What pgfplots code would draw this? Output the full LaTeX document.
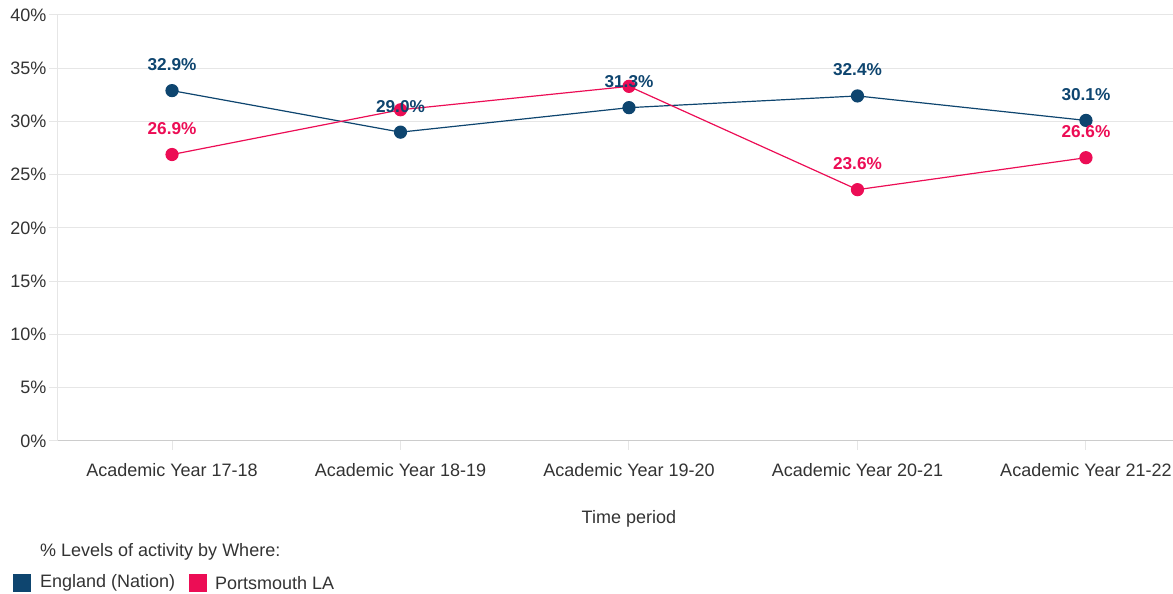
\documentclass[border=0pt]{standalone}
\usepackage{fontspec}
\setmainfont{Liberation Sans}
\usepackage{pgfplots}
\pgfplotsset{compat=1.18}
\definecolor{eng}{HTML}{0E456F}
\definecolor{pts}{HTML}{EC0D55}
\definecolor{gridc}{HTML}{E6E6E6}
\definecolor{axc}{HTML}{CCCCCC}
\definecolor{txt}{HTML}{333333}
\begin{document}
\begin{tikzpicture}[x=1pt,y=1pt]
\path[use as bounding box] (0,0) rectangle (1173,594);
\begin{axis}[
  at={(58pt,153pt)}, anchor=south west,
  scale only axis, width=1115pt, height=426pt,
  xmin=-0.499, xmax=4.381, ymin=0, ymax=40,
  xtick={0,1,2,3,4},
  xticklabels={Academic Year 17-18,Academic Year 18-19,Academic Year 19-20,Academic Year 20-21,Academic Year 21-22},
  ytick={0,5,...,40},
  yticklabel={\pgfmathprintnumber{\tick}\%},
  /pgf/number format/assume math mode=true,
  axis lines*=left,
  axis line style={-},
  x axis line style={draw=axc, line width=1pt},
  y axis line style={draw=gridc, line width=1pt},
  tick align=outside,
  major tick length=9pt,
  tick style={draw=gridc, line width=1pt},
  ymajorgrids, grid style={draw=gridc, line width=1pt},
  ticklabel style={font=\fontsize{18}{21}\selectfont, text=txt},
  xticklabel style={yshift=-10pt},
  yticklabel style={xshift=1pt},
  xlabel={Time period},
  xlabel style={at={(axis description cs:0.512,0)}, anchor=center, yshift=-78pt, font=\fontsize{18}{21}\selectfont, text=txt},
  clip=false,
  every node near coord/.append style={font=\bfseries\fontsize{17.2}{20}\selectfont, anchor=base, yshift=20pt},
]
\addplot[eng, line width=1.2pt, mark=*, mark size=6pt, mark options={solid, fill=eng, draw=eng}]
  coordinates {(0,32.9) (1,29.0) (2,31.3) (3,32.4) (4,30.1)};
\addplot[pts, line width=1.2pt, mark=*, mark size=6pt, mark options={solid, fill=pts, draw=pts}]
  coordinates {(0,26.9) (1,31.1) (2,33.3) (3,23.6) (4,26.6)};
\addplot[draw=none, mark=none, forget plot, nodes near coords, point meta=explicit symbolic,
  every node near coord/.append style={text=pts}]
  coordinates {(0,26.9) [26.9\%] (1,31.1) [] (2,33.3) [] (3,23.6) [23.6\%] (4,26.6) [26.6\%]};
\addplot[draw=none, mark=none, forget plot, nodes near coords, point meta=explicit symbolic,
  every node near coord/.append style={text=eng}]
  coordinates {(0,32.9) [32.9\%] (1,29.0) [29.0\%] (2,31.3) [31.3\%] (3,32.4) [32.4\%] (4,30.1) [30.1\%]};
\end{axis}
\node[anchor=west, inner sep=0pt, font=\fontsize{18}{21}\selectfont, text=txt] at (40,42) {\% Levels of activity by Where:};
\fill[eng] (13,2) rectangle (31,20);
\node[anchor=west, inner sep=0pt, font=\fontsize{18}{21}\selectfont, text=txt] at (40,11) {England (Nation)};
\fill[pts] (189,2) rectangle (207,20);
\node[anchor=west, inner sep=0pt, font=\fontsize{18}{21}\selectfont, text=txt] at (215,11) {Portsmouth LA};
\end{tikzpicture}
\end{document}
